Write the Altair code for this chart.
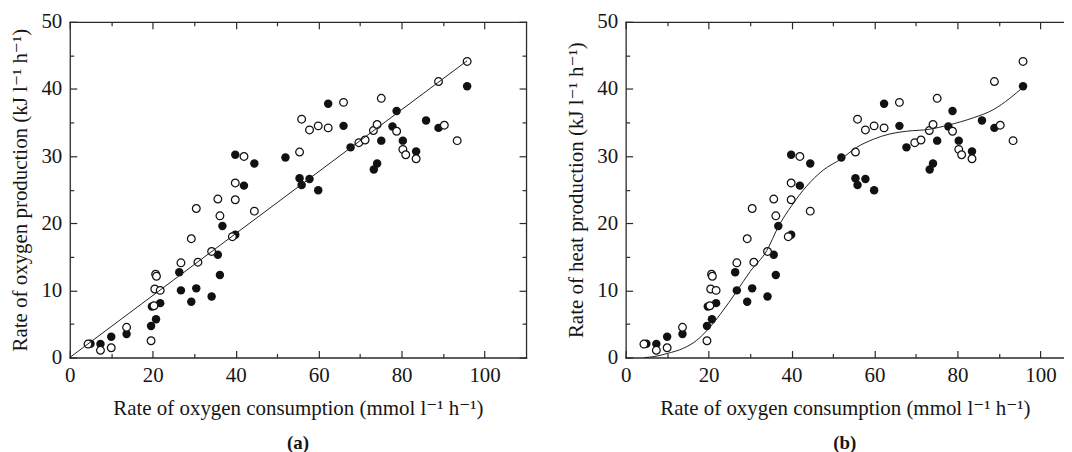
import altair as alt
import pandas as pd

# ---- data ----
filled_x = [5.0, 7.4, 10.0, 13.7, 19.6, 19.8, 20.8, 21.8, 26.4, 26.8, 29.3, 30.5, 34.2, 35.7,
            36.2, 36.8, 39.9, 39.9, 42.0, 44.5, 52.0, 55.4, 55.9, 57.8, 59.9, 62.3, 66.0, 67.7,
            73.3, 74.1, 75.1, 77.8, 78.8, 80.3, 83.5, 85.9, 88.9, 95.8]
filled_y = [2.05, 2.0, 3.1, 3.5, 4.7, 7.6, 5.7, 8.1, 12.7, 10.0, 8.3, 10.3, 9.1, 15.3,
            12.3, 19.6, 18.3, 30.2, 25.6, 28.9, 29.8, 26.7, 25.7, 26.6, 24.9, 37.8, 34.5, 31.3,
            28.0, 28.9, 32.3, 34.4, 36.7, 32.3, 30.7, 35.3, 34.2, 40.4]
open_x = [4.4, 7.4, 10.0, 13.7, 19.6, 20.3, 20.5, 20.7, 20.9, 21.8, 26.8, 29.3, 30.5, 30.9,
          34.2, 35.7, 36.2, 39.2, 39.9, 39.9, 42.0, 44.5, 55.4, 55.9, 57.8, 59.9, 62.3, 66.0,
          69.7, 71.2, 73.2, 74.1, 75.1, 78.8, 80.3, 81.0, 83.5, 88.9, 90.3, 93.4, 95.8]
open_y = [2.0, 1.07, 1.46, 4.5, 2.5, 7.7, 10.2, 12.4, 12.1, 10.0, 14.1, 17.7, 22.2, 14.2,
          15.8, 23.6, 21.1, 18.0, 23.5, 26.0, 29.95, 21.8, 30.6, 35.5, 33.9, 34.5, 34.2, 38.0,
          32.0, 32.4, 33.8, 34.7, 38.6, 33.7, 31.0, 30.2, 29.6, 41.1, 34.6, 32.3, 44.1]

line_a_x = [0.0, 95.8]
line_a_y = [0.0, 44.2]

curve_b_x = [4.5, 7.0, 10.0, 14.0, 17.0, 20.0, 23.0, 26.7, 30.0, 34.0, 36.9, 40.0, 43.6,
             47.6, 52.0, 55.7, 59.7, 63.7, 67.7, 73.3, 77.7, 83.8, 88.6, 92.6, 95.7]
curve_b_y = [0.0, 0.15, 0.6, 1.4, 2.5, 4.3, 6.6, 9.8, 12.8, 15.9, 19.6, 22.6, 25.5,
             27.9, 29.6, 31.3, 32.5, 33.3, 33.7, 34.0, 34.6, 35.7, 36.9, 38.6, 40.2]

x_major = [0, 20, 40, 60, 80, 100]
x_minor = [10, 30, 50, 70, 90]
y_major = [0, 10, 20, 30, 40, 50]
y_minor = [5, 15, 25, 35, 45]

x_title = "Rate of oxygen consumption (mmol l\u207b\u00b9 h\u207b\u00b9)"
y_title_a = "Rate of oxygen production (kJ l\u207b\u00b9 h\u207b\u00b9)"
y_title_b = "Rate of heat production (kJ l\u207b\u00b9 h\u207b\u00b9)"

FONT = "Liberation Serif, Times New Roman, DejaVu Serif, serif"
INK = "#2a2a2a"
TXT = "#161616"
FS = 21
MAJ = 7
MIN = 4

filled_df = pd.DataFrame({"x": filled_x, "y": filled_y})
open_df = pd.DataFrame({"x": open_x, "y": open_y})


def ax_label(orient, values, title, tpad):
    return alt.Axis(orient=orient, values=values, title=title, domain=True, domainColor=INK,
                    domainWidth=1.3, domainCap="square", ticks=False, tickSize=0,
                    labelFont=FONT, labelFontSize=FS, labelColor=TXT,
                    labelPadding=7 if orient == "bottom" else 8,
                    labelFlush=False, labelOverlap=False, grid=False,
                    titleFont=FONT, titleFontSize=FS, titleFontWeight="normal",
                    titleColor=TXT, titlePadding=tpad)


def ax_frame(orient):
    return alt.Axis(orient=orient, title=None, domain=True, domainColor=INK, domainWidth=1.3,
                    domainCap="square", ticks=False, labels=False, grid=False)


def ax_ticks(orient, values, size):
    return alt.Axis(orient=orient, values=values, title=None, domain=False, ticks=True,
                    tickSize=size, tickColor=INK, tickWidth=1.2, labels=False, grid=False,
                    offset=-size)


def panel(ytitle, tag, line_x, line_y, interp, width, xmax, right_side):
    xs = alt.Scale(domain=[0, xmax], nice=False, zero=False)
    ys = alt.Scale(domain=[0, 50], nice=False, zero=False)

    x_axes = [ax_label("bottom", x_major, x_title, 12),
              ax_ticks("bottom", x_major, MAJ),
              ax_ticks("bottom", x_minor, MIN),
              ax_frame("top"),
              ax_ticks("top", x_major, MAJ),
              ax_ticks("top", x_minor, MIN)]
    y_axes = [ax_label("left", y_major, ytitle, 10),
              ax_ticks("left", y_major, MAJ),
              ax_ticks("left", y_minor, MIN)]
    if right_side:
        y_axes += [ax_frame("right"), ax_ticks("right", y_major, MAJ), ax_ticks("right", y_minor, MIN)]
    else:
        y_axes += [None, None, None]

    line_df = pd.DataFrame({"x": line_x, "y": line_y})

    def enc(base, i):
        return base.encode(
            x=alt.X("x:Q", scale=xs, axis=x_axes[i]),
            y=alt.Y("y:Q", scale=ys, axis=y_axes[i]),
        )

    filled = enc(alt.Chart(filled_df).mark_circle(size=72, color="#111111", opacity=1), 0)
    opened = enc(alt.Chart(open_df).mark_point(shape="circle", size=60, filled=True, fill="white",
                                                stroke="#111111", strokeWidth=1.25, opacity=1), 1)
    line_kwargs = dict(color="#222222", strokeWidth=1.0)
    if interp:
        line_kwargs["interpolate"] = interp
    line = enc(alt.Chart(line_df).mark_line(**line_kwargs), 2)
    ghosts = [enc(alt.Chart(filled_df).mark_point(opacity=0), i) for i in (3, 4, 5)]

    return alt.layer(filled, opened, line, *ghosts).resolve_axis(
        x="independent", y="independent"
    ).properties(
        width=width, height=337,
        title=alt.TitleParams(tag, orient="bottom", font=FONT, fontSize=19, fontWeight="bold",
                              color=TXT, anchor="middle", offset=16, baseline="top"),
    )


pa = panel(y_title_a, "(a)", line_a_x, line_a_y, None, 458, 110, True)
pb = panel(y_title_b, "(b)", curve_b_x, curve_b_y, "monotone", 440, 440 / 458 * 110, False)

chart = alt.hconcat(pa, pb, spacing=100, bounds="flush").properties(
    padding={"left": 2, "top": 2, "right": 0, "bottom": 0}
).configure_view(stroke=None)

chart.save("out.html", embed_options={"renderer": "svg", "actions": False})
